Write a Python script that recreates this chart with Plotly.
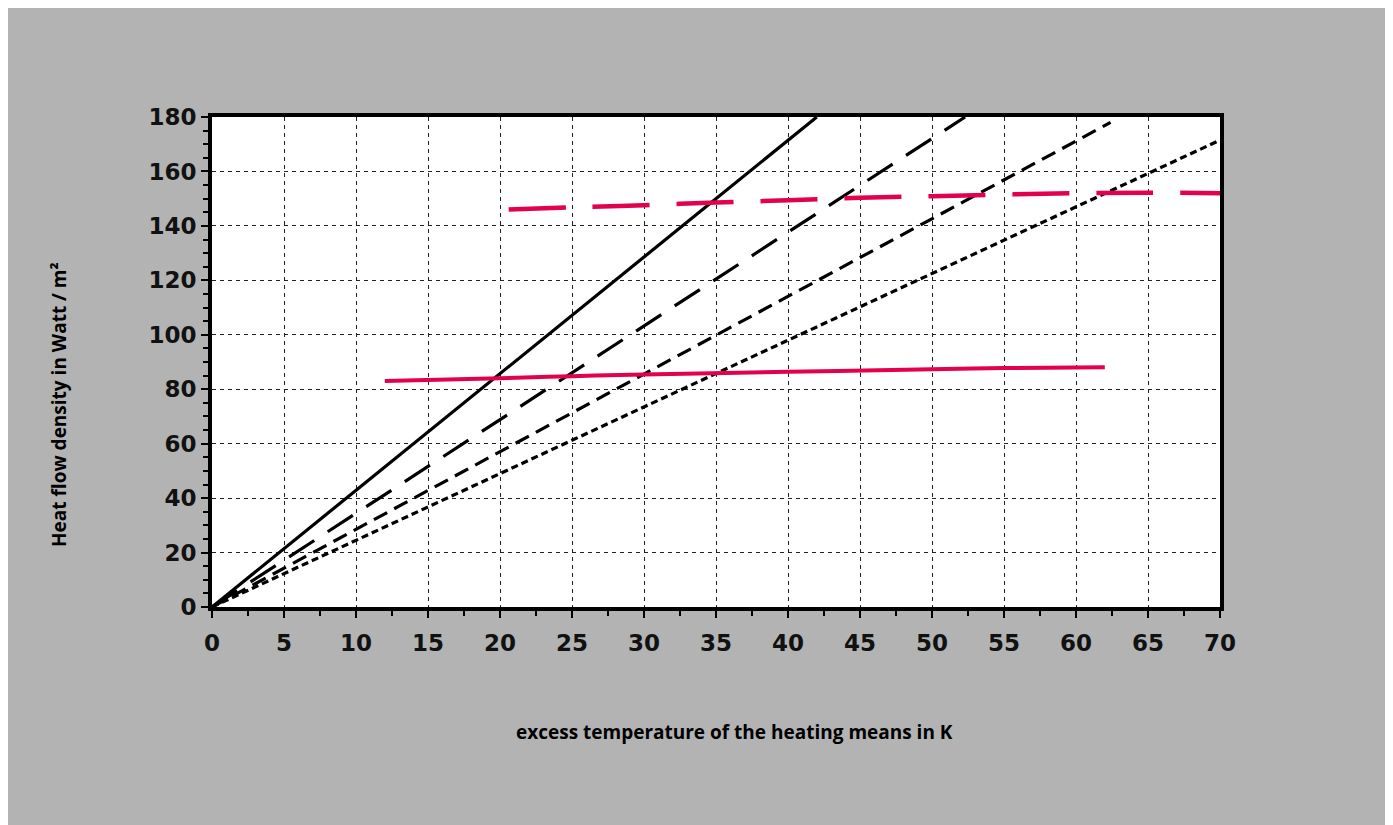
import plotly.graph_objects as go

# Black reference lines (straight from origin), endpoints
solid_x = [0, 42.0]
solid_y = [0, 180]
longdash_x = [0, 52.3]
longdash_y = [0, 180]
meddash_x = [0, 62.4]
meddash_y = [0, 178]
shortdash_x = [0, 70]
shortdash_y = [0, 171.5]

# Red curves
red_solid_x = [12, 20, 25, 30, 40, 50, 55, 62]
red_solid_y = [83.0, 84.0, 84.8, 85.4, 86.4, 87.3, 87.8, 88.1]
red_dash_x = [20.6, 25, 30, 35, 40, 45, 50, 55, 60, 65, 70]
red_dash_y = [146.0, 146.8, 147.6, 148.6, 149.4, 150.3, 150.9, 151.5, 152.0, 152.2, 152.0]

x_ticks = list(range(0, 71, 5))
y_ticks = list(range(0, 181, 20))

x_title = "excess temperature of the heating means in K"
y_title = "Heat flow density in Watt / m²"

RED = "#e2004f"
fig = go.Figure()
fig.add_trace(go.Scatter(x=solid_x, y=solid_y, mode="lines",
                         line=dict(color="black", width=3.2)))
fig.add_trace(go.Scatter(x=longdash_x, y=longdash_y, mode="lines",
                         line=dict(color="black", width=3.2, dash="30px,16px")))
fig.add_trace(go.Scatter(x=meddash_x, y=meddash_y, mode="lines",
                         line=dict(color="black", width=3.2, dash="15px,8px")))
fig.add_trace(go.Scatter(x=shortdash_x, y=shortdash_y, mode="lines",
                         line=dict(color="black", width=3.2, dash="7px,4px")))
fig.add_trace(go.Scatter(x=red_solid_x, y=red_solid_y, mode="lines",
                         line=dict(color=RED, width=4, shape="spline")))
fig.add_trace(go.Scatter(x=red_dash_x, y=red_dash_y, mode="lines",
                         line=dict(color=RED, width=4.5, dash="57px,27px", shape="spline")))

tickfont = dict(family="DejaVu Sans", size=23, color="#111111", weight="bold")
titlefont = dict(family="Open Sans, Roboto", size=19, color="black", weight="bold")
fig.update_layout(
    width=1378, height=817, autosize=False,
    margin=dict(l=204, r=166, t=109, b=218, pad=0),
    paper_bgcolor="#b3b3b3", plot_bgcolor="white",
    showlegend=False,
    xaxis=dict(range=[0, 70], tickvals=x_ticks, ticktext=[str(v) for v in x_ticks],
               showgrid=True, gridcolor="#222222", gridwidth=1, griddash="4px,4px",
               zeroline=False, showline=True, linecolor="black", linewidth=4, mirror=True,
               ticks="outside", ticklen=7, tickwidth=1.5, tickcolor="black",
               tickfont=tickfont, ticklabelstandoff=5,
               minor=dict(dtick=2.5, ticks="outside", ticklen=5, tickwidth=1.5,
                          tickcolor="black", showgrid=False)),
    yaxis=dict(range=[0, 180], tickvals=y_ticks, ticktext=[str(v) for v in y_ticks],
               showgrid=True, gridcolor="#222222", gridwidth=1, griddash="4px,4px",
               zeroline=False, showline=True, linecolor="black", linewidth=4, mirror=True,
               ticks="outside", ticklen=7, tickwidth=1.5, tickcolor="black",
               tickfont=tickfont, ticklabelstandoff=0,
               minor=dict(dtick=5, ticks="outside", ticklen=5, tickwidth=1.5,
                          tickcolor="black", showgrid=False)),
    annotations=[
        dict(text=x_title, xref="paper", yref="paper",
             x=0.518, y=-0.255, xanchor="center", yanchor="middle", showarrow=False,
             font=titlefont),
        dict(text=y_title, xref="paper", yref="paper",
             x=-0.152, y=0.414, xanchor="center", yanchor="middle", showarrow=False, textangle=-90,
             font=titlefont),
    ],
)

fig.write_html("out.html")
